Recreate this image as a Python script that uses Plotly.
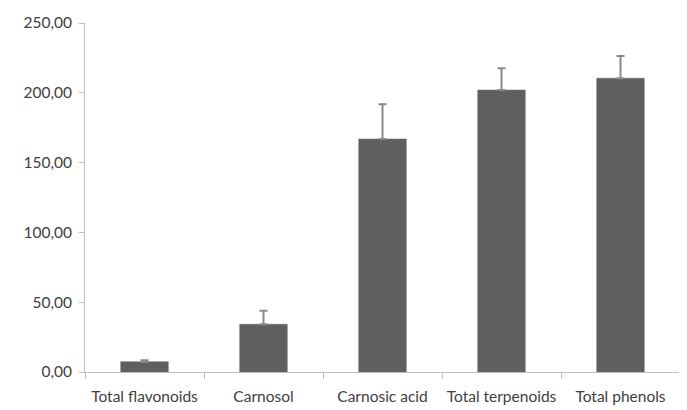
import plotly.graph_objects as go

categories = ["Total flavonoids", "Carnosol", "Carnosic acid", "Total terpenoids", "Total phenols"]
values = [7.4, 34.2, 166.9, 202.0, 210.4]
errors = [1.0, 9.7, 24.9, 15.5, 16.0]
tick_vals = [0, 50, 100, 150, 200, 250]
tick_text = ["0,00", "50,00", "100,00", "150,00", "200,00", "250,00"]

fig = go.Figure(go.Bar(
    x=categories, y=values,
    marker=dict(color="#5f5f5f", line=dict(color="#6a6a6a", width=0.5)),
    width=0.4,
    error_y=dict(type="data", array=errors, arrayminus=[0]*len(errors), symmetric=False,
                 color="#8a8a8a", thickness=2, width=4),
))

fig.update_layout(
    width=679, height=402,
    margin=dict(l=77, r=7, t=15, b=38, autoexpand=False),
    paper_bgcolor="white", plot_bgcolor="white",
    font=dict(family="Lato, 'Open Sans', sans-serif", size=15.5, color="#404040"),
    showlegend=False,
    bargap=0.6,
)
fig.update_xaxes(
    showline=True, linecolor="#bfbfbf", linewidth=1,
    ticks="outside", tickson="boundaries", ticklen=6, tickcolor="#bfbfbf",
    showgrid=False, zeroline=False, ticklabelstandoff=10,
)
fig.update_yaxes(
    range=[0, 250], tickvals=tick_vals, ticktext=tick_text,
    showline=True, linecolor="#bfbfbf", linewidth=1,
    ticks="outside", ticklen=5, tickcolor="#bfbfbf",
    showgrid=False, zeroline=False, ticklabelstandoff=4,
)

fig.write_html("out.html")
